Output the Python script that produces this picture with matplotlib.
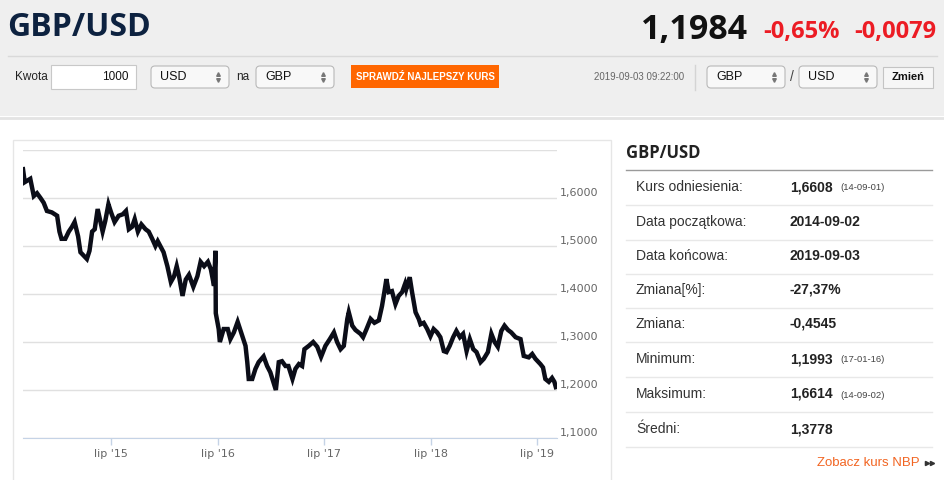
import matplotlib
matplotlib.use("Agg")
import matplotlib.pyplot as plt
from matplotlib.patches import Rectangle, FancyBboxPatch
from matplotlib.transforms import ScaledTranslation
import pandas as pd

# GBP/USD rate, approx. every 1-2 weeks
dates = [
    '2014-09-02', '2014-09-08', '2014-09-27', '2014-10-09', '2014-10-20', '2014-11-01', '2014-11-12', '2014-11-23', '2014-12-10', '2014-12-28',
    '2015-01-05', '2015-01-12', '2015-01-25', '2015-02-06', '2015-02-17', '2015-02-26', '2015-03-10', '2015-03-18', '2015-03-29', '2015-04-09',
    '2015-04-18', '2015-04-27', '2015-05-06', '2015-05-16', '2015-05-25', '2015-06-02', '2015-06-11', '2015-06-22', '2015-07-01', '2015-07-13',
    '2015-07-27', '2015-08-10', '2015-08-21', '2015-08-31', '2015-09-11', '2015-09-20', '2015-10-01', '2015-10-13', '2015-10-27', '2015-11-07',
    '2015-11-19', '2015-11-30', '2015-12-08', '2015-12-28', '2016-01-10', '2016-01-22', '2016-02-02', '2016-02-11', '2016-02-19', '2016-03-02',
    '2016-03-13', '2016-03-24', '2016-04-08', '2016-04-22', '2016-05-03', '2016-05-15', '2016-05-28', '2016-06-07', '2016-06-18', '2016-06-23',
    '2016-06-24', '2016-07-04', '2016-07-08', '2016-07-21', '2016-08-04', '2016-08-13', '2016-08-25', '2016-09-07', '2016-09-19', '2016-10-04',
    '2016-10-10', '2016-10-15', '2016-10-27', '2016-11-07', '2016-11-18', '2016-12-05', '2016-12-17', '2016-12-28', '2017-01-16', '2017-01-26',
    '2017-02-06', '2017-02-18', '2017-02-28', '2017-03-14', '2017-03-24', '2017-04-05', '2017-04-16', '2017-04-24', '2017-05-09', '2017-05-24',
    '2017-06-07', '2017-06-20', '2017-07-05', '2017-07-20', '2017-08-03', '2017-08-14', '2017-08-26', '2017-09-06', '2017-09-18', '2017-09-23',
    '2017-10-05', '2017-10-16', '2017-11-02', '2017-11-11', '2017-11-23', '2017-12-07', '2017-12-20', '2018-01-04', '2018-01-15', '2018-01-23',
    '2018-01-30', '2018-02-07', '2018-02-18', '2018-03-02', '2018-03-13', '2018-03-25', '2018-04-04', '2018-04-08', '2018-04-20', '2018-04-28',
    '2018-05-10', '2018-05-21', '2018-05-27', '2018-06-07', '2018-06-19', '2018-06-30', '2018-07-11', '2018-07-23', '2018-08-03', '2018-08-15',
    '2018-08-24', '2018-09-04', '2018-09-16', '2018-09-27', '2018-10-09', '2018-10-20', '2018-11-01', '2018-11-12', '2018-11-24', '2018-12-05',
    '2018-12-19', '2018-12-30', '2019-01-13', '2019-01-25', '2019-02-05', '2019-02-16', '2019-02-28', '2019-03-11', '2019-03-23', '2019-04-03',
    '2019-04-18', '2019-05-05', '2019-05-16', '2019-06-02', '2019-06-14', '2019-06-25', '2019-07-12', '2019-07-21', '2019-07-29', '2019-08-10',
    '2019-08-21', '2019-08-29', '2019-09-03',
]
rates = [
    1.660, 1.633, 1.640, 1.604, 1.610, 1.600, 1.590, 1.573, 1.570, 1.563,
    1.530, 1.515, 1.515, 1.530, 1.540, 1.550, 1.520, 1.487, 1.480, 1.473,
    1.490, 1.530, 1.535, 1.577, 1.552, 1.530, 1.552, 1.587, 1.570, 1.550,
    1.563, 1.566, 1.573, 1.535, 1.540, 1.556, 1.530, 1.545, 1.535, 1.530,
    1.515, 1.500, 1.510, 1.487, 1.458, 1.425, 1.437, 1.458, 1.437, 1.396,
    1.430, 1.440, 1.415, 1.437, 1.467, 1.458, 1.467, 1.452, 1.417, 1.490,
    1.360, 1.327, 1.300, 1.327, 1.327, 1.306, 1.320, 1.342, 1.320, 1.292,
    1.258, 1.223, 1.223, 1.244, 1.258, 1.270, 1.250, 1.237, 1.200, 1.258,
    1.260, 1.250, 1.250, 1.223, 1.244, 1.254, 1.250, 1.285, 1.292, 1.300,
    1.290, 1.269, 1.292, 1.306, 1.320, 1.300, 1.285, 1.292, 1.348, 1.362,
    1.334, 1.325, 1.317, 1.310, 1.327, 1.348, 1.340, 1.345, 1.375, 1.404,
    1.431, 1.404, 1.406, 1.379, 1.396, 1.404, 1.421, 1.410, 1.435, 1.404,
    1.362, 1.348, 1.337, 1.340, 1.327, 1.312, 1.327, 1.320, 1.310, 1.281,
    1.279, 1.292, 1.310, 1.323, 1.310, 1.317, 1.281, 1.306, 1.285, 1.279,
    1.258, 1.265, 1.279, 1.317, 1.300, 1.290, 1.323, 1.334, 1.325, 1.320,
    1.310, 1.306, 1.271, 1.268, 1.275, 1.265, 1.254, 1.247, 1.223, 1.217,
    1.225, 1.217, 1.206,
]

y_ticks = [1.1, 1.2, 1.3, 1.4, 1.5, 1.6, 1.7]
y_labels = ['1,1000', '1,2000', '1,3000', '1,4000', '1,5000', '1,6000', '']
x_ticks = ['2015-07-01', '2016-07-01', '2017-07-01', '2018-07-01', '2019-07-01']
x_labels = ["lip '15", "lip '16", "lip '17", "lip '18", "lip '19"]

stats_labels = ['Kurs odniesienia:', 'Data początkowa:', 'Data końcowa:', 'Zmiana[%]:',
                'Zmiana:', 'Minimum:', 'Maksimum:', 'Średni:']
stats_values = ['1,6608', '2014-09-02', '2019-09-03', '-27,37%', '-0,4545', '1,1993', '1,6614', '1,3778']
stats_notes = ['(14-09-01)', '', '', '', '', '(17-01-16)', '(14-09-02)', '']

W, H = 945, 480
fig = plt.figure(figsize=(W / 100, H / 100), dpi=100)
fig.patch.set_facecolor('white')

# page background, drawn in pixel coordinates
bg = fig.add_axes([0, 0, 1, 1])
bg.set_xlim(0, W)
bg.set_ylim(H, 0)
bg.axis('off')

bg.add_patch(Rectangle((0, 0), W, 116, fc='#efefef', ec='none'))
bg.plot([8, 937], [56, 56], color='#d9d9d9', lw=1)
bg.plot([0, W], [117.5, 117.5], color='#e4e4e4', lw=2)

sans = 'Liberation Sans'
head = 'Open Sans'

bg.text(7, 28, 'GBP/USD', fontsize=23, fontweight='bold', color='#0d2240',
        family=head, va='center', ha='left')
bg.text(748, 30, '1,1984', fontsize=24.5, fontweight='bold', color='#111111',
        family=head, va='center', ha='right')
bg.text(840, 32, '-0,65%', fontsize=17, fontweight='bold', color='#ec1c24',
        family=head, va='center', ha='right')
bg.text(936, 32, '-0,0079', fontsize=17, fontweight='bold', color='#ec1c24',
        family=head, va='center', ha='right')


def select_box(x, w, label, y=66, h=22):
    bg.add_patch(FancyBboxPatch((x, y), w, h, boxstyle='round,pad=0,rounding_size=4',
                                fc='#f8f8f8', ec='#b9b9b9', lw=0.8))
    bg.text(x + 9, y + h / 2, label, fontsize=9, family=sans, color='#111111',
            va='center', ha='left')
    bg.plot([x + w - 11], [y + h / 2 - 3], marker='^', ms=2.6, color='#777777')
    bg.plot([x + w - 11], [y + h / 2 + 3], marker='v', ms=2.6, color='#777777')


bg.text(15, 77, 'Kwota', fontsize=8.5, family=sans, color='#222222', va='center')
bg.add_patch(Rectangle((51, 65), 85, 24, fc='white', ec='#c8c8c8', lw=0.8))
bg.text(129, 77, '1000', fontsize=8.5, family=sans, color='#111111', va='center', ha='right')
select_box(151, 78, 'USD')
bg.text(236, 77, 'na', fontsize=8.5, family=sans, color='#222222', va='center')
select_box(256, 78, 'GBP')
bg.add_patch(Rectangle((351, 65), 148, 23, fc='#ff6600', ec='none'))
bg.text(425, 76.5, 'SPRAWDŹ NAJLEPSZY KURS', fontsize=7, fontweight='bold', family=sans,
        color='white', va='center', ha='center')

bg.text(684, 77, '2019-09-03 09:22:00', fontsize=7, family=sans, color='#666666',
        va='center', ha='right')
bg.plot([694.5, 694.5], [65, 90], color='#d4d4d4', lw=1)
select_box(707, 78, 'GBP')
bg.text(792, 77, '/', fontsize=10, family=sans, color='#444444', va='center', ha='center')
select_box(799, 78, 'USD')
bg.add_patch(Rectangle((883, 67), 50, 21, fc='#f6f6f6', ec='#c4c4c4', lw=0.8))
bg.text(908, 77.5, 'Zmień', fontsize=8, fontweight='bold', family=sans, color='#111111',
        va='center', ha='center')

# chart card
bg.add_patch(Rectangle((13, 140), 598, 350, fc='white', ec='#e6e6e6', lw=1))

# stats panel
bg.text(626, 153, 'GBP/USD', fontsize=12, fontweight='bold', family=head, color='#222222',
        va='center', ha='left')
bg.plot([626, 932], [169.5, 169.5], color='#9a9a9a', lw=1)
row_y = [187, 222, 256, 290, 324, 359, 394, 429]
for i, yy in enumerate(row_y):
    bg.text(636, yy, stats_labels[i], fontsize=10, family=sans, color='#333333', va='center')
    bg.text(790, yy, stats_values[i], fontsize=10, fontweight='bold', family=sans,
            color='#222222', va='center')
    if stats_notes[i]:
        bg.text(840, yy + 1, stats_notes[i], fontsize=6.8, family=sans, color='#444444', va='center')
    bg.plot([626, 932], [yy + 18, yy + 18], color='#e8e8e8', lw=1)
bg.text(920, 463, 'Zobacz kurs NBP', fontsize=9.5, family=sans, color='#f26522',
        va='center', ha='right')
bg.plot([926.5, 931.5], [463, 463], ls='none', marker='>', ms=3, color='#333333')

# price chart
ax = fig.add_axes([23 / W, 1 - 438 / H, (557 - 23) / W, (438 - 150) / H])
ax.set_facecolor('none')
dt = pd.to_datetime(dates)
ax.plot(dt, rates, color='#0b0d18', lw=3.2, solid_joinstyle='miter')

ax.set_xlim(pd.Timestamp('2014-09-02'), pd.Timestamp('2019-09-07'))
ax.set_ylim(1.1, 1.7)
ax.set_yticks(y_ticks)
ax.set_yticklabels(y_labels)
ax.yaxis.tick_right()
ax.tick_params(axis='y', length=0, pad=2, labelsize=8, labelcolor='#666666')
offset = ScaledTranslation(0, 6 / 100, fig.dpi_scale_trans)
for lab in ax.get_yticklabels():
    lab.set_transform(lab.get_transform() + offset)
ax.grid(axis='y', color='#e0e0e0', lw=1)
ax.set_axisbelow(True)

ax.set_xticks(pd.to_datetime(x_ticks))
ax.set_xticklabels(x_labels)
ax.tick_params(axis='x', length=5, width=1, color='#c5d3e6', pad=3, labelsize=8,
               labelcolor='#666666')
for s in ['top', 'left', 'right']:
    ax.spines[s].set_visible(False)
ax.spines['bottom'].set_color('#c5d3e6')

fig.savefig('out.png', dpi=100)
